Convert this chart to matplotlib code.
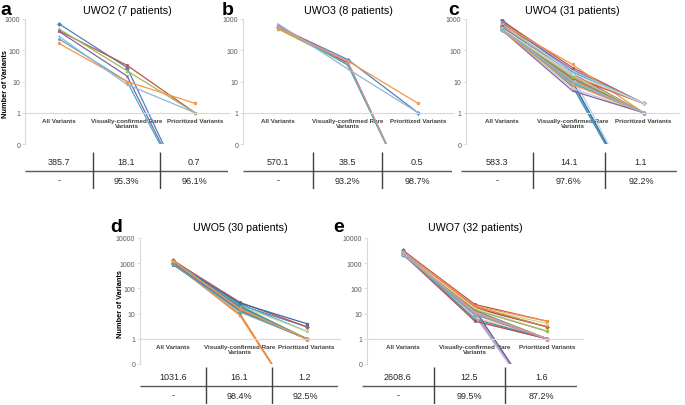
import matplotlib
matplotlib.use("Agg")
import matplotlib.pyplot as plt

plt.rcParams["font.family"] = ["Liberation Sans", "DejaVu Sans"]

W, H = 685, 406

stages = ["All Variants", "Visually-confirmed Rare\nVariants", "Prioritized Variants"]
# zeros can't sit on a log axis, excel shoots them off the bottom of the plot
ZERO_FLOOR = 7e-4

# a - UWO2 (7 patients)
uwo2_all = [700, 420, 480, 400, 230, 165, 280]
uwo2_vis = [28, 33, 22, 15, 10, 10, 8]
uwo2_prio = [0, 1, 1, 0, 0, 2, 1]
uwo2_row1 = ["385.7", "18.1", "0.7"]
uwo2_row2 = ["-", "95.3%", "96.1%"]

# b - UWO3 (8 patients)
uwo3_all = [560, 520, 480, 600, 640, 500, 700, 560]
uwo3_vis = [50, 38, 35, 40, 33, 45, 25, 42]
uwo3_prio = [1, 0, 0, 0, 0, 2, 1, 0]
uwo3_row1 = ["570.1", "38.5", "0.5"]
uwo3_row2 = ["-", "93.2%", "98.7%"]

# c - UWO4 (31 patients)
uwo4_all = [950, 880, 820, 760, 720, 700, 680, 650, 640, 620, 600, 590, 580, 570, 560, 550,
            540, 530, 520, 510, 500, 490, 480, 470, 470, 460, 450, 450, 440, 430, 470]
uwo4_vis = [20, 28, 14, 24, 9, 35, 8, 18, 10, 12, 22, 15, 10, 14, 11, 17,
            7, 15, 15, 16, 14, 6, 18, 10, 9, 13, 14, 5, 9, 8, 10]
uwo4_prio = [2, 2, 1, 2, 0, 1, 0, 1, 1, 1, 2, 2, 0, 2, 1, 1,
             0, 2, 0, 1, 1, 1, 2, 1, 1, 1, 1, 1, 1, 1, 1]
uwo4_row1 = ["583.3", "14.1", "1.1"]
uwo4_row2 = ["-", "97.6%", "92.2%"]

# d - UWO5 (30 patients)
uwo5_all = [1300, 1250, 1200, 1180, 1150, 1120, 1100, 1080, 1060, 1050, 1040, 1030, 1020, 1010, 1000,
            990, 980, 970, 960, 950, 940, 930, 920, 900, 880, 860, 980, 950, 900, 1250]
uwo5_vis = [22, 28, 16, 19, 24, 10, 15, 17, 20, 13, 16, 8, 26, 12, 18,
            15, 20, 9, 14, 16, 11, 17, 15, 14, 18, 13, 16, 14, 12, 15]
uwo5_prio = [3, 3, 1, 1, 2, 0, 1, 1, 2, 1, 1, 0, 4, 1, 1,
             1, 1, 0, 1, 1, 1, 1, 1, 1, 1, 1, 1, 1, 1, 1]
uwo5_row1 = ["1031.6", "16.1", "1.2"]
uwo5_row2 = ["-", "98.4%", "92.5%"]

# e - UWO7 (32 patients)
uwo7_all = [3300, 3200, 3100, 3000, 2950, 2900, 2850, 2800, 2750, 2700, 2700, 2650, 2650, 2600, 2600, 2550,
            2550, 2500, 2500, 2450, 2450, 2400, 2400, 2350, 2300, 2250, 2200, 2150, 2175, 2400, 2300, 2800]
uwo7_vis = [16, 23, 12, 9, 14, 20, 5, 13, 18, 11, 15, 7, 12, 17, 10, 14,
            6, 19, 13, 11, 16, 8, 12, 15, 10, 5, 14, 13, 9, 12, 11, 10]
uwo7_prio = [3, 5, 1, 0, 2, 5, 1, 1, 4, 0, 2, 1, 1, 3, 1, 0,
             1, 3, 1, 1, 2, 0, 1, 2, 1, 1, 2, 1, 1, 1, 1, 1]
uwo7_row1 = ["2608.6", "12.5", "1.6"]
uwo7_row2 = ["-", "99.5%", "87.2%"]

# office 2007 style series colours (base, lighter, mid shades)
colors = ["#4F81BD", "#C0504D", "#9BBB59", "#8064A2", "#4BACC6", "#F79646",
          "#95B3D7", "#D99694", "#C3D69B", "#B3A2C7", "#93CDDD", "#FAC08F",
          "#3E6BA3", "#A84744", "#84A14A", "#6C5590", "#3B95AD", "#E3823A",
          "#B9CDE5", "#E6B9B8", "#D7E4BD", "#CCC1DA", "#B7DEE8", "#FCD5B5"]
markers = ["D", "s", "^", "x", "*", "o", "+"]


def px(left, top, right, bottom):
    return [left / W, 1 - bottom / H, (right - left) / W, (bottom - top) / H]


fig = plt.figure(figsize=(W / 100, H / 100), dpi=100)


def draw_panel(box, allv, visv, priov, ymax, title, letter, letter_x, table_box, row1, row2, ylabel_x=None):
    left, top, right, bottom = box
    ax = fig.add_axes(px(left, top, right, bottom))
    for i in range(len(allv)):
        p = priov[i] if priov[i] > 0 else ZERO_FLOOR
        ax.plot([0, 1, 2], [allv[i], visv[i], p], color=colors[i % len(colors)], lw=0.9,
                marker=markers[i % len(markers)], ms=2, mew=0.5)
    ax.set_yscale("log")
    ax.set_ylim(0.1, ymax)
    ax.set_xlim(-0.5, 2.5)
    ticks = [0.1, 1, 10, 100, 1000, 10000]
    ticks = [t for t in ticks if t <= ymax]
    ax.set_yticks(ticks, ["0"] + [str(int(t)) for t in ticks[1:]])
    ax.minorticks_off()
    ax.spines["top"].set_visible(False)
    ax.spines["right"].set_visible(False)
    ax.spines["bottom"].set_position(("data", 1))
    ax.spines["bottom"].set_color("#D9D9D9")
    ax.spines["left"].set_color("#D9D9D9")
    ax.spines["bottom"].set_linewidth(0.8)
    ax.spines["left"].set_linewidth(0.8)
    ax.set_xticks([0, 1, 2], stages, fontsize=4.5, fontweight="bold", color="#404040", linespacing=1.15)
    ax.tick_params(axis="x", length=0, pad=3.5)
    ax.tick_params(axis="y", length=2, width=0.6, color="#D9D9D9", labelsize=5,
                   labelcolor="#595959", pad=1.5)
    ax.set_facecolor("none")
    if ylabel_x is not None:
        fig.text(ylabel_x / W, 1 - ((top + bottom) / 2 + 2) / H, "Number of Variants", rotation=90,
                 ha="center", va="center", fontsize=5.3, fontweight="bold")

    # title and panel letter
    base = top - 6 if top < 100 else top - 8
    fig.text((left + right) / 2 / W, 1 - base / H, title, ha="center", va="baseline", fontsize=7.7)
    fig.text(letter_x / W, 1 - (base + 1) / H, letter, ha="left", va="baseline",
             fontsize=14, fontweight="bold")

    # little summary table under the plot
    tl, tt, tr, tb = table_box
    tax = fig.add_axes(px(tl, tt, tr, tb))
    tax.set_xlim(0, 3)
    tax.set_ylim(0, 1)
    tax.axis("off")
    tax.plot([0, 3], [0.5, 0.5], color="#595959", lw=1.0, solid_capstyle="butt")
    for xv in [1, 2]:
        tax.plot([xv, xv], [0, 1], color="#404040", lw=1.0, solid_capstyle="butt")
    for j in range(3):
        tax.text(j + 0.5, 0.75, row1[j], ha="center", va="center", fontsize=6.5, color="#262626")
        tax.text(j + 0.5, 0.24, row2[j], ha="center", va="center", fontsize=6.5, color="#262626")
    return ax


draw_panel((25, 20, 229, 145), uwo2_all, uwo2_vis, uwo2_prio, 1000, "UWO2 (7 patients)", "a", 0,
           (25, 153, 228, 190), uwo2_row1, uwo2_row2, ylabel_x=6)
draw_panel((243, 20, 453, 145), uwo3_all, uwo3_vis, uwo3_prio, 1000, "UWO3 (8 patients)", "b", 222,
           (243, 153, 452, 190), uwo3_row1, uwo3_row2)
draw_panel((466, 20, 679, 145), uwo4_all, uwo4_vis, uwo4_prio, 1000, "UWO4 (31 patients)", "c", 448,
           (461, 153, 677, 190), uwo4_row1, uwo4_row2)
draw_panel((140, 239, 340, 365), uwo5_all, uwo5_vis, uwo5_prio, 10000, "UWO5 (30 patients)", "d", 110,
           (140, 368, 338, 405), uwo5_row1, uwo5_row2, ylabel_x=120)
draw_panel((367, 239, 583, 365), uwo7_all, uwo7_vis, uwo7_prio, 10000, "UWO7 (32 patients)", "e", 333,
           (362, 368, 577, 405), uwo7_row1, uwo7_row2)

fig.savefig("out.png", dpi=100)
